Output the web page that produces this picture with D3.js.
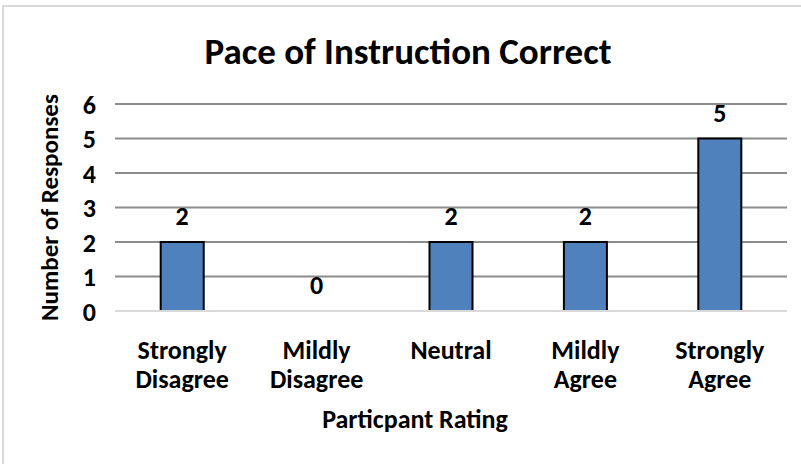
<!DOCTYPE html>
<html>
<head>
    <title>Pace of Instruction Correct</title>
    <script src="https://d3js.org/d3.v7.min.js"></script>
    <style>
        body { margin: 0; background-color: #ffffff; }
        text { font-family: Carlito, "Liberation Sans Narrow", "Open Sans", sans-serif; font-weight: bold; fill: #000; }
    </style>
</head>
<body>
    <script>
        // chart data
        const ratings = [["Strongly", "Disagree"], ["Mildly", "Disagree"], ["Neutral"], ["Mildly", "Agree"], ["Strongly", "Agree"]];
        const categories = ["Strongly Disagree", "Mildly Disagree", "Neutral", "Mildly Agree", "Strongly Agree"];
        const responses = [2, 0, 2, 2, 5];
        const yTicks = [0, 1, 2, 3, 4, 5, 6];

        const W = 801, H = 464;
        const margin = {top: 104, right: 14, bottom: 153, left: 115};
        const width = W - margin.left - margin.right,
              height = H - margin.top - margin.bottom;

        const svg = d3.select("body").append("svg")
            .attr("width", W)
            .attr("height", H);

        // outer chart border (only top/left visible in the crop)
        svg.append("rect")
            .attr("x", 3).attr("y", 6)
            .attr("width", W + 20).attr("height", H + 20)
            .attr("fill", "none")
            .attr("stroke", "#d9d9d9")
            .attr("stroke-width", 2);

        const g = svg.append("g")
            .attr("transform", "translate(" + margin.left + "," + margin.top + ")");

        const x = d3.scaleBand().domain(categories).range([0, width]).paddingInner(0.68).paddingOuter(0.34);
        const y = d3.scaleLinear().domain([0, 6]).range([height, 0]);

        // title
        svg.append("text")
            .attr("x", 408).attr("y", 64)
            .style("text-anchor", "middle")
            .style("font-size", "37px")
            .text("Pace of Instruction Correct");

        // gridlines
        g.selectAll(".grid")
            .data(yTicks.filter(d => d > 0))
            .enter().append("line")
            .attr("x1", 0).attr("x2", width)
            .attr("y1", d => y(d)).attr("y2", d => y(d))
            .attr("stroke", "#8c8c8c")
            .attr("stroke-width", 2);

        // y axis labels
        const yAxis = g.append("g")
            .call(d3.axisLeft(y).tickValues(yTicks).tickSize(0).tickPadding(19).tickFormat(d3.format("d")));
        yAxis.select(".domain").remove();
        yAxis.selectAll("text")
            .style("font-size", "26px")
            .attr("dy", "0.36em");

        // bars
        g.selectAll(".bar")
            .data(responses)
            .enter().append("rect")
            .attr("class", "bar")
            .attr("x", (d, i) => x(categories[i]))
            .attr("y", d => y(d))
            .attr("width", x.bandwidth())
            .attr("height", d => height - y(d))
            .attr("fill", "#4f81bd")
            .attr("stroke", "#000")
            .attr("stroke-width", 2);

        // baseline
        g.append("line")
            .attr("x1", 0).attr("x2", width)
            .attr("y1", height).attr("y2", height)
            .attr("stroke", "#d9d9d9")
            .attr("stroke-width", 2);

        // data labels
        g.selectAll(".val")
            .data(responses)
            .enter().append("text")
            .attr("x", (d, i) => x(categories[i]) + x.bandwidth() / 2)
            .attr("y", d => y(d) - 17)
            .style("text-anchor", "middle")
            .style("font-size", "26px")
            .text(d => d);

        // x category labels
        const xl = g.selectAll(".xl")
            .data(ratings)
            .enter().append("text")
            .attr("x", (d, i) => x(categories[i]) + x.bandwidth() / 2)
            .attr("y", height + 48)
            .style("text-anchor", "middle")
            .style("font-size", "26px");
        xl.selectAll("tspan")
            .data(d => d)
            .enter().append("tspan")
            .attr("x", function () { return d3.select(this.parentNode).attr("x"); })
            .attr("dy", (d, i) => i === 0 ? 0 : 29)
            .text(d => d);

        // axis titles
        svg.append("text")
            .attr("x", 415).attr("y", 428)
            .style("text-anchor", "middle")
            .style("font-size", "26px")
            .text("Particpant Rating");

        svg.append("text")
            .attr("transform", "translate(58," + (margin.top + height / 2) + ") rotate(-90)")
            .style("text-anchor", "middle")
            .style("font-size", "25px")
            .text("Number of Responses");
    </script>
</body>
</html>
